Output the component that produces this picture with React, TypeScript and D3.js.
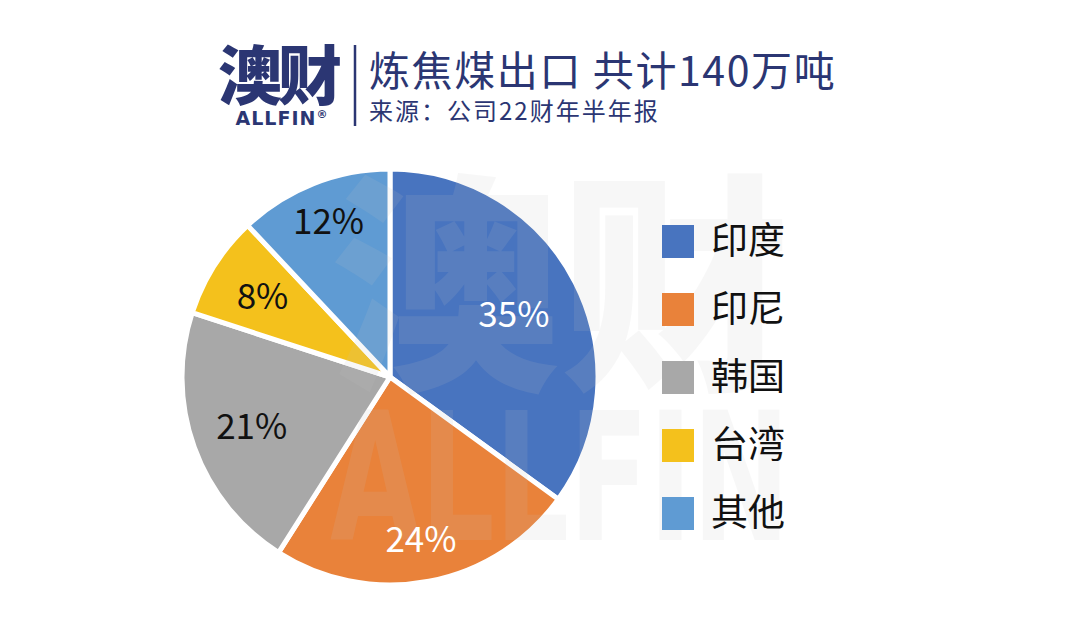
import React from "react";
import * as d3 from "d3";

const categories = ["印度", "印尼", "韩国", "台湾", "其他"];
const shares = [35, 24, 21, 8, 12];
const colors = ["#4874BF", "#E9823A", "#A8A8A8", "#F4C11C", "#5F9BD3"];
const labelColors = ["#ffffff", "#ffffff", "#111111", "#111111", "#111111"];
const labelRadii = [139, 165, 147, 151, 167];
const title = "炼焦煤出口 共计140万吨";
const subtitle = "来源：公司22财年半年报";

const W = 1080, H = 620;
const cx = 390, cy = 377, R = 208;
const navy = "#2B3673";
const font = "'Noto Sans CJK SC', 'Noto Sans', sans-serif";

export default function App() {
  const pie = d3.pie<number>().sort(null).value((d) => d)(shares);
  const arc = d3.arc<d3.PieArcDatum<number>>().innerRadius(0).outerRadius(R);
  const legendY = d3.scalePoint<string>().domain(categories).range([241, 513]);
  return (
    <svg width={W} height={H} style={{ position: "absolute", left: 0, top: 0, background: "#fff" }}>
      <rect width={W} height={H} fill="#fff" />
      {/* logo */}
      <text x={278} y={99} fontSize={64} fontWeight={900} fill={navy} textAnchor="middle" fontFamily={font} letterSpacing={-4}>澳财</text>
      <text x={282} y={125} fontSize={19} fontWeight="bold" fill={navy} textAnchor="middle" fontFamily="'DejaVu Sans', sans-serif" letterSpacing={1}>ALLFIN<tspan fontSize={11} dy={-7}>®</tspan></text>
      <line x1={355} x2={355} y1={45} y2={126} stroke={navy} strokeWidth={2.5} />
      <text x={369} y={86} fontSize={41} fill={navy} fontFamily={font} letterSpacing={1.6}>{title}</text>
      <text x={369} y={120} fontSize={24} fill={navy} fontFamily={font} letterSpacing={2}>{subtitle}</text>
      {/* pie */}
      <g transform={`translate(${cx},${cy})`}>
        {pie.map((p, i) => (
          <path key={i} d={arc(p) || ""} fill={colors[i]} stroke="#fff" strokeWidth={5} strokeLinejoin="round" />
        ))}
      </g>
      {/* watermark */}
      <g fill="#c4c4c4" opacity={0.13} fontWeight={900} pointerEvents="none">
        <text x={330} y={372} fontSize={232} fontFamily={font} textLength={460} lengthAdjust="spacingAndGlyphs">澳财</text>
        <text x={330} y={540} fontSize={178} fontFamily="'DejaVu Sans', sans-serif" fontWeight="bold" textLength={460} lengthAdjust="spacingAndGlyphs">ALLFIN</text>
      </g>
      <g transform={`translate(${cx},${cy})`}>
        {pie.map((p, i) => {
          const a = (p.startAngle + p.endAngle) / 2;
          const r = labelRadii[i];
          return (
            <text key={"l" + i} x={Math.sin(a) * r} y={-Math.cos(a) * r} dy="0.36em" textAnchor="middle"
              fontSize={35} fill={labelColors[i]} fontFamily={font}>{shares[i]}%</text>
          );
        })}
      </g>
      {/* legend */}
      {categories.map((c, i) => (
        <g key={c} transform={`translate(662,${legendY(c)})`}>
          <rect x={0} y={-16} width={32} height={33} fill={colors[i]} />
          <text x={49} y={0} dy="0.36em" fontSize={37} fill="#111" fontFamily={font}>{c}</text>
        </g>
      ))}
    </svg>
  );
}
